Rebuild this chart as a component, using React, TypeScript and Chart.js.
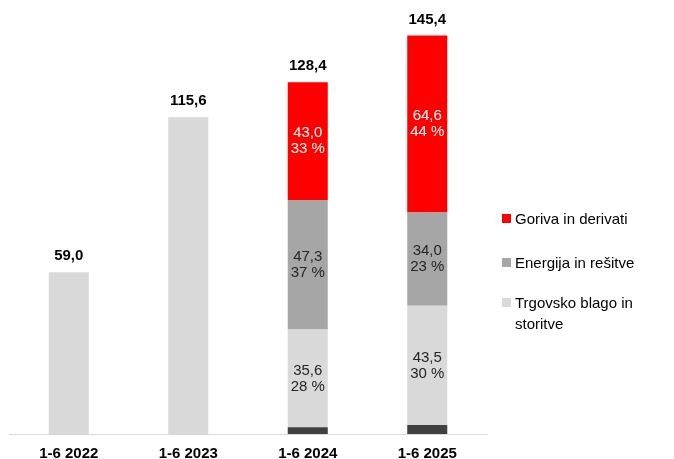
import React, { useEffect, useRef } from "react";
import { Chart, registerables } from "chart.js";

Chart.register(...registerables);

const categories = ["1-6 2022", "1-6 2023", "1-6 2024", "1-6 2025"];
const otherValues = [0, 0, 2.5, 3.3];
const tradeValues = [59.0, 115.6, 35.6, 43.5];
const energyValues = [0, 0, 47.3, 34.0];
const fuelValues = [0, 0, 43.0, 64.6];
const totals = ["59,0", "115,6", "128,4", "145,4"];
const tradeLabels = [null, null, ["35,6", "28 %"], ["43,5", "30 %"]];
const energyLabels = [null, null, ["47,3", "37 %"], ["34,0", "23 %"]];
const fuelLabels = [null, null, ["43,0", "33 %"], ["64,6", "44 %"]];
const legendItems = [
  { label: "Goriva in derivati", color: "#ff0000" },
  { label: "Energija in rešitve", color: "#a6a6a6" },
  { label: "Trgovsko blago in storitve", color: "#d9d9d9" },
];

const FONT = "'Liberation Sans', Arial, sans-serif";

const labelPlugin = {
  id: "barLabels",
  afterDatasetsDraw(chart: any) {
    const ctx = chart.ctx;
    ctx.save();
    ctx.textAlign = "center";
    ctx.textBaseline = "middle";
    chart.data.datasets.forEach((ds: any, di: number) => {
      const labels = ds.segLabels;
      if (!labels) return;
      const meta = chart.getDatasetMeta(di);
      meta.data.forEach((bar: any, i: number) => {
        const l = labels[i];
        if (!l) return;
        const cy = (bar.y + bar.base) / 2;
        ctx.fillStyle = ds.labelColor;
        ctx.font = `15px ${FONT}`;
        ctx.fillText(l[0], bar.x, cy - 8);
        ctx.fillText(l[1], bar.x, cy + 8);
      });
    });
    const lastMeta = chart.getDatasetMeta(chart.data.datasets.length - 1);
    const yScale = chart.scales.y;
    categories.forEach((_, i) => {
      let sum = 0;
      chart.data.datasets.forEach((ds: any) => (sum += ds.data[i]));
      const y = yScale.getPixelForValue(sum);
      const x = lastMeta.data[i].x;
      ctx.fillStyle = "#000";
      ctx.font = `bold 15px ${FONT}`;
      ctx.fillText(totals[i], x, y - 16);
    });
    ctx.restore();
  },
};

export default function App() {
  const ref = useRef<HTMLCanvasElement | null>(null);
  useEffect(() => {
    if (!ref.current) return;
    const chart = new Chart(ref.current, {
      type: "bar",
      data: {
        labels: categories,
        datasets: [
          { label: "Ostalo", data: otherValues, backgroundColor: "#404040" } as any,
          { label: "Trgovsko blago in storitve", data: tradeValues, backgroundColor: "#d9d9d9", segLabels: tradeLabels, labelColor: "#262626" },
          { label: "Energija in rešitve", data: energyValues, backgroundColor: "#a6a6a6", segLabels: energyLabels, labelColor: "#262626" },
          { label: "Goriva in derivati", data: fuelValues, backgroundColor: "#ff0000", segLabels: fuelLabels, labelColor: "#ffffff" },
        ],
      },
      options: {
        animation: false,
        responsive: false,
        maintainAspectRatio: false,
        layout: { padding: { left: 9, right: 187, top: 23, bottom: -15 } },
        datasets: { bar: { categoryPercentage: 1, barPercentage: 0.335 } },
        plugins: { legend: { display: false }, tooltip: { enabled: false } },
        scales: {
          x: {
            stacked: true,
            grid: { display: false, drawTicks: false },
            border: { color: "#d9d9d9", width: 1 },
            ticks: { color: "#000", font: { family: FONT, size: 15, weight: "bold" }, padding: 11 },
          },
          y: { stacked: true, display: false, min: 0, max: 150 },
        },
      },
      plugins: [labelPlugin],
    });
    return () => chart.destroy();
  }, []);

  return (
    <div style={{ position: "fixed", left: 0, top: 0, width: 674, height: 459, background: "#fff" }}>
      <canvas ref={ref} width={674} height={459} style={{ position: "absolute", left: 0, top: 0 }} />
      <div style={{ position: "absolute", left: 502, top: 208, fontFamily: FONT, fontSize: 15, color: "#000", lineHeight: "21px" }}>
        {legendItems.map((it, i) => (
          <div key={i} style={{ display: "flex", alignItems: "flex-start", marginBottom: i === 0 ? 23 : 19, width: 172 }}>
            <span style={{ display: "inline-block", width: 9, height: 9, background: it.color, marginTop: 6, marginRight: 4, flex: "none" }} />
            <span style={{ width: 150 }}>{it.label}</span>
          </div>
        ))}
      </div>
    </div>
  );
}
